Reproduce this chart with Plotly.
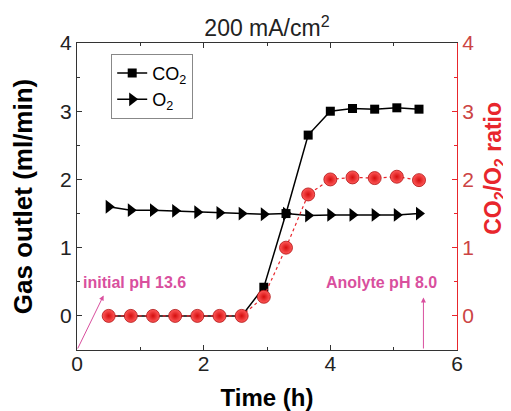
import plotly.graph_objects as go

time_h = [0.5, 0.85, 1.2, 1.55, 1.9, 2.25, 2.6, 2.95, 3.3, 3.65, 4.0, 4.35, 4.7, 5.05, 5.4]
co2 = [0, 0, 0, 0, 0, 0, 0, 0.42, 1.5, 2.65, 3.0, 3.04, 3.03, 3.05, 3.03]
o2 = [1.6, 1.55, 1.55, 1.54, 1.52, 1.51, 1.50, 1.49, 1.50, 1.47, 1.48, 1.48, 1.48, 1.48, 1.50]
ratio = [0, 0, 0, 0, 0, 0, 0, 0.28, 1.0, 1.78, 2.0, 2.03, 2.02, 2.04, 1.99]

FONT = "Liberation Sans, Arial, sans-serif"
RED = "#e8262c"
PINK = "#d94f9e"

fig = go.Figure()
fig.add_trace(go.Scatter(x=time_h, y=co2, mode="lines+markers", name="CO<sub>2</sub>",
                         line=dict(color="black", width=1.5),
                         marker=dict(symbol="square", size=9, color="black")))
fig.add_trace(go.Scatter(x=time_h, y=o2, mode="lines+markers", name="O<sub>2</sub>",
                         line=dict(color="black", width=1.5),
                         marker=dict(symbol="triangle-right", size=12, color="black")))
fig.add_trace(go.Scatter(x=time_h, y=ratio, mode="lines+markers", name="ratio", yaxis="y2",
                         showlegend=False,
                         line=dict(color=RED, width=1.2, dash="dot"),
                         marker=dict(symbol="circle", size=13, color="#ff5a5a",
                                     line=dict(width=0.8, color="#b01010"),
                                     gradient=dict(type="radial", color="#d40d0d"))))

fig.update_layout(
    width=503, height=403,
    margin=dict(l=69, r=54, t=35, b=61),
    plot_bgcolor="white", paper_bgcolor="white",
    font=dict(family=FONT, size=20, color="black"),
    title=dict(text="200 mA/cm<sup>2</sup>", x=0.5, xanchor="center", xref="paper",
               y=0.95, yanchor="middle", font=dict(size=23, color="#222")),
    xaxis=dict(range=[0, 6], dtick=2, ticks="inside", ticklen=5, tickcolor="#333",
               showline=True, linecolor="#333", linewidth=1.2, mirror="ticks",
               showgrid=False, zeroline=False, automargin=False,
               minor=dict(dtick=1, ticks="inside", ticklen=3, tickcolor="#333"),
               ticklabelstandoff=-5,
               title=dict(text="<b>Time (h)</b>", font=dict(size=24), standoff=14),
               tickfont=dict(size=21, color="#222")),
    yaxis=dict(range=[-0.5, 4], dtick=1, tick0=0, ticks="inside", ticklen=5, tickcolor="#333",
               showline=True, linecolor="#333", linewidth=1.2,
               showgrid=False, zeroline=False, automargin=False,
               minor=dict(dtick=0.5, ticks="inside", ticklen=3, tickcolor="#333"),
               title=dict(text="<b>Gas outlet (ml/min)</b>", font=dict(size=26), standoff=20),
               tickfont=dict(size=21, color="#222")),
    yaxis2=dict(range=[-0.5, 4], dtick=1, tick0=0, overlaying="y", side="right",
                ticks="inside", ticklen=5, tickcolor=RED,
                showline=True, linecolor=RED, linewidth=1.2,
                showgrid=False, zeroline=False, automargin=False,
                minor=dict(dtick=0.5, ticks="inside", ticklen=3, tickcolor=RED),
                tickfont=dict(size=21, color="#cc4444")),
    legend=dict(x=0.09, y=0.965, xanchor="left", yanchor="top",
                bordercolor="#888", borderwidth=1, bgcolor="white",
                font=dict(size=18), tracegroupgap=0, itemwidth=30),
    showlegend=True,
)

fig.add_annotation(x=1.10, y=0.59, xref="paper", yref="paper", textangle=-90,
                   text="<b>CO<sub>2</sub>/O<sub>2</sub> ratio</b>", showarrow=False,
                   xanchor="center", yanchor="middle", font=dict(size=23, color=RED))
fig.add_annotation(x=0.06, y=0.49, xref="x", yref="y", text="<b>initial pH 13.6</b>",
                   showarrow=False, xanchor="left", font=dict(size=16, color=PINK))
fig.add_annotation(x=0.42, y=0.3, ax=0, ay=-0.5, xref="x", yref="y", axref="x", ayref="y",
                   text="", showarrow=True, arrowhead=2, arrowsize=1, arrowwidth=1, arrowcolor=PINK)
fig.add_annotation(x=5.71, y=0.49, xref="x", yref="y", text="<b>Anolyte pH 8.0</b>",
                   showarrow=False, xanchor="right", font=dict(size=16, color=PINK))
fig.add_annotation(x=5.47, y=0.27, ax=5.47, ay=-0.5, xref="x", yref="y", axref="x", ayref="y",
                   text="", showarrow=True, arrowhead=2, arrowsize=1, arrowwidth=1, arrowcolor=PINK)

fig.write_html("out.html")
